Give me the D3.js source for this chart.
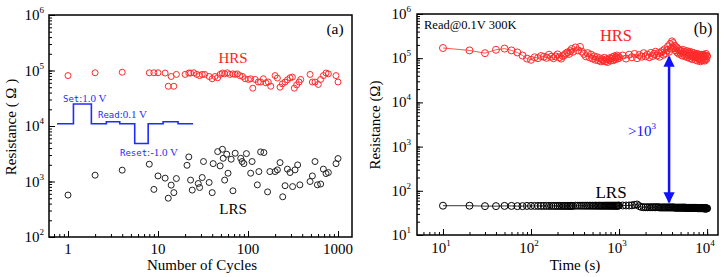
<!DOCTYPE html>
<html lang="en">

<head>
    <title>Resistance switching</title>
    <meta charset="utf-8">
    <script src="https://d3js.org/d3.v7.min.js"></script>
    <style>
        body { margin: 0; background: #fff; }
        text { font-family: "Liberation Serif", "Times New Roman", serif; }
    </style>
</head>

<body>
    <div id="container"></div>
    <script>
        // Panel (a): endurance data
        const cyclesHRS = [1, 2, 4, 8, 9, 10, 12, 13, 14, 15, 16, 20, 22, 23, 25, 27, 29, 31, 33, 37, 40, 43, 46, 49,
            52, 55, 59, 63, 68, 72, 76, 81, 87, 93, 101, 107, 113, 120, 130, 138, 148, 158, 168, 179, 200, 212, 227,
            241, 258, 274, 293, 311, 327, 347, 369, 385, 489, 519, 555, 604, 641, 687, 736, 781, 950, 1000];
        const resHRS = [8.1e4, 9.1e4, 9.3e4, 9.1e4, 9.1e4, 9.1e4, 9.0e4, 5.2e4, 7.8e4, 5.2e4, 8.5e4, 8.5e4, 9.0e4,
            9.0e4, 9.1e4, 8.5e4, 8.1e4, 8.5e4, 8.5e4, 7.8e4, 7.1e4, 7.8e4, 7.4e4, 8.5e4, 9.0e4, 8.7e4, 9.1e4, 8.5e4,
            8.7e4, 8.5e4, 8.7e4, 8.1e4, 7.8e4, 7.1e4, 6.9e4, 7.1e4, 4.8e4, 6.9e4, 6.2e4, 6.2e4, 7.1e4, 6.0e4, 6.2e4,
            5.2e4, 8.1e4, 7.3e4, 5.0e4, 5.75e4, 6.2e4, 6.8e4, 7.4e4, 7.6e4, 4.8e4, 5.5e4, 6.2e4, 6.9e4, 8.5e4, 6.2e4,
            6.2e4, 5.6e4, 6.9e4, 8.1e4, 9.0e4, 8.7e4, 8.1e4, 6.2e4];

        const cyclesLRS = [1, 2, 4, 8, 9, 10, 12, 13, 14, 15, 16, 21, 22, 23, 24, 28, 29, 31, 32, 37, 40, 41, 46, 49,
            52, 53, 55, 58, 60, 65, 68, 72, 83, 86, 90, 96, 107, 111, 127, 132, 138, 150, 165, 175, 200, 212, 227, 243,
            258, 274, 293, 313, 333, 356, 377, 489, 519, 555, 590, 641, 687, 736, 781, 950, 1000];
        const resLRS = [570, 1300, 1600, 2050, 720, 1260, 1150, 500, 860, 630, 1130, 1960, 2770, 1060, 700, 920, 780,
            1180, 2290, 960, 630, 2100, 3460, 1910, 3810, 2620, 1060, 3100, 1410, 2520, 680, 3230, 2620, 2290, 2100,
            3180, 1410, 2290, 870, 1510, 3410, 3320, 650, 1510, 1510, 1620, 2190, 530, 840, 1670, 1450, 810, 1620,
            1990, 870, 1000, 1260, 2290, 870, 900, 1670, 1390, 1450, 2100, 2590];

        // Inset pulse train (step start times and voltages)
        const waveT = [0, 1.1, 2.3, 3.3, 4.2, 5.2, 6.1, 7.1, 8.1, 9.1];
        const waveV = [0, 1.0, 0, 0.1, 0, -1.0, 0, 0.1, 0, 0];

        // Panel (b): retention data
        const timeB = [10, 20, 30, 40, 50, 60, 70, 80, 90, 100, 110, 120, 130, 140, 150, 160, 170, 180, 190, 200,
            210, 220, 230, 240, 250, 260, 270, 280, 290, 300,
            320, 340, 360, 380, 400, 420, 440, 460, 480, 500, 520, 540, 560, 580, 600, 620, 640, 660, 680, 700,
            720, 740, 760, 780, 800, 820, 840, 860, 880, 900, 920, 940, 960, 980, 1000,
            1100, 1200, 1300, 1400, 1500, 1600, 1700, 1800, 1900, 2000, 2100, 2200, 2300, 2400, 2500, 2600, 2700,
            2800, 2900, 3000, 3100, 3200, 3300, 3400, 3500, 3600, 3700, 3800, 3900, 4000, 4100, 4200, 4300, 4400,
            4500, 4600, 4700, 4800, 4900, 5000, 5100, 5200, 5300, 5400, 5500, 5600, 5700, 5800, 5900, 6000, 6100,
            6200, 6300, 6400, 6500, 6600, 6700, 6800, 6900, 7000, 7100, 7200, 7300, 7400, 7500, 7600, 7700, 7800,
            7900, 8000, 8100, 8200, 8300, 8400, 8500, 8600, 8700, 8800, 8900, 9000, 9100, 9200, 9300, 9400, 9500,
            9600, 9700, 9800, 9900, 10000];
        const hrsB = [1.7e5, 1.5e5, 1.3e5, 1.55e5, 1.65e5, 1.5e5, 1.35e5, 1.15e5, 0.98e5, 0.92e5, 1.05e5, 1.0e5,
            1.12e5, 1.08e5, 1.02e5, 1.2e5, 1.08e5, 1.0e5, 1.1e5, 1.22e5, 1.05e5, 0.98e5, 1.12e5, 1.18e5, 1.28e5,
            1.36e5, 1.25e5, 1.45e5, 1.62e5, 1.4e5,
            1.75e5, 1.5e5, 1.8e5, 1.4e5, 1.25e5, 1.1e5, 1.3e5, 1.05e5, 1.2e5, 0.98e5, 1.1e5, 0.92e5, 1.05e5, 0.9e5,
            1.0e5, 0.85e5, 0.95e5, 0.88e5, 1.02e5, 0.85e5, 0.95e5, 0.82e5, 0.92e5, 1.0e5, 0.88e5, 0.98e5, 1.05e5,
            0.9e5, 1.1e5, 0.95e5, 1.05e5, 1.15e5, 0.98e5, 1.1e5, 1.02e5,
            1.15e5, 0.98e5, 1.2e5, 1.05e5, 1.25e5, 1.0e5, 1.18e5, 1.08e5, 1.3e5, 1.1e5,
            1.2e5, 1.05e5, 1.32e5, 1.12e5, 1.25e5, 1.4e5, 1.15e5, 1.3e5, 1.08e5, 1.35e5,
            1.45e5, 1.2e5, 1.6e5, 1.3e5, 1.5e5, 1.85e5, 1.4e5, 2.1e5, 1.65e5, 2.4e5,
            2.2e5, 1.7e5, 1.9e5, 1.5e5, 1.75e5, 1.35e5, 1.6e5, 1.25e5, 1.5e5, 1.3e5,
            1.45e5, 1.15e5, 1.55e5, 1.25e5, 1.4e5, 1.1e5, 1.35e5, 1.2e5, 1.45e5, 1.05e5,
            1.3e5, 1.15e5, 1.4e5, 1.0e5, 1.25e5, 1.1e5, 1.35e5, 0.95e5, 1.2e5, 1.05e5,
            1.3e5, 1.1e5, 1.2e5, 0.92e5, 1.15e5, 1.05e5, 1.25e5, 0.88e5, 1.1e5, 1.0e5,
            1.2e5, 0.95e5, 1.15e5, 0.85e5, 1.1e5, 1.0e5, 1.2e5, 0.9e5, 1.15e5, 1.05e5,
            1.2e5, 0.92e5, 1.1e5, 0.88e5, 1.15e5, 1.0e5, 1.25e5, 0.95e5, 1.1e5, 1.12e5];
        const lrsB = [46, 46, 45, 45, 45.5, 45.5, 45, 45, 45.5, 45.5, 45.5, 45.5, 45.5, 45.5, 45.5, 45.5, 45.5, 45.5,
            45.5, 45.5, 45.5, 45.5, 45.5, 45.5, 45.5, 45.5, 45.5, 45.5, 45.5, 45.5,
            46, 46, 46, 46, 46, 46, 46, 46, 46, 46, 46, 46, 46, 46, 46, 46, 46, 46, 46, 46, 46, 46, 46, 46, 46, 46,
            46, 46, 46, 46, 46, 46, 46, 46, 46.5,
            46.5, 46.5, 46.5, 47, 48, 49, 45, 43, 42.5, 42.5, 42.5, 42.5, 42.5, 42.5, 42.5, 42.5, 42.5, 42.5, 42,
            42, 42, 42, 42, 42, 42, 42, 42, 42, 42, 42, 42, 42, 41.5, 41.5, 41.5, 41.5, 41.5, 41.5, 41.5, 41.5,
            41.5, 41.5, 41.5, 41.5, 41.5, 41.5, 41.5, 41, 41, 41, 41, 41, 41, 41, 41, 41, 41, 41, 41, 41, 41, 41,
            41, 41, 41, 41, 40.5, 40.5, 40.5, 40.5, 40.5, 40.5, 40.5, 40.5, 40.5, 40.5, 40.5, 40.5, 40.5, 40.5,
            40.5, 40, 40, 40, 40, 40, 40, 40, 40, 40, 40];

        // Window arrow between the states
        const arrowTime = 3700;
        const arrowRange = [1.08e5, 55];

        // Tick labels
        const ticksAX = [1, 10, 100, 1000];
        const ticksAY = [2, 3, 4, 5, 6];
        const ticksBX = [1, 2, 3, 4];
        const ticksBY = [1, 2, 3, 4, 5, 6];

        // Draw canvas
        const svg = d3.select("#container")
            .append("svg")
            .attr("width", 724)
            .attr("height", 277);

        // Create scales
        const xA = d3.scaleLog().domain([0.615, 1430]).range([49, 352]);
        const yA = d3.scaleLog().domain([100, 1e6]).range([237, 15]);
        const xB = d3.scaleLog().domain([5.07, 13300]).range([417, 718]);
        const yB = d3.scaleLog().domain([10, 1e6]).range([235, 14]);
        const xW = d3.scaleLinear().domain([0, 9.1]).range([57, 193]);
        const yW = d3.scaleLinear().domain([-1, 1]).range([143.5, 104]);

        // Frame with inward ticks
        function drawFrame(x, y, majorX, majorY) {
            const [x0, x1] = x.range();
            const [y1, y0] = y.range();
            const g = svg.append("g");
            g.append("g")
                .attr("transform", `translate(0,${y1})`)
                .call(d3.axisBottom(x).tickValues(x.ticks()).tickSize(-3).tickFormat(""));
            g.append("g")
                .attr("transform", `translate(0,${y1})`)
                .call(d3.axisBottom(x).tickValues(majorX).tickSize(-6).tickFormat(""));
            g.append("g")
                .attr("transform", `translate(${x0},0)`)
                .call(d3.axisLeft(y).tickValues(y.ticks()).tickSize(-3).tickFormat(""));
            g.append("g")
                .attr("transform", `translate(${x0},0)`)
                .call(d3.axisLeft(y).tickValues(majorY).tickSize(-6).tickFormat(""));
            g.selectAll(".domain").remove();
            g.selectAll(".tick line").attr("stroke", "black").attr("stroke-width", 1);
            g.append("rect")
                .attr("x", x0).attr("y", y0)
                .attr("width", x1 - x0).attr("height", y1 - y0)
                .attr("fill", "none")
                .attr("stroke", "black")
                .attr("stroke-width", 1.5);
        }

        function powLabel(x, y, exp, anchor) {
            const t = svg.append("text")
                .attr("x", x).attr("y", y)
                .attr("text-anchor", anchor)
                .style("font-size", "15px");
            t.append("tspan").text("10");
            t.append("tspan").attr("dy", -7).style("font-size", "9px").text(exp);
        }

        // ---------- Panel (a) ----------
        drawFrame(xA, yA, ticksAX, ticksAY.map(e => Math.pow(10, e)));

        ticksAX.forEach(v => {
            svg.append("text")
                .attr("x", xA(v)).attr("y", 254)
                .attr("text-anchor", "middle")
                .style("font-size", "15px")
                .text(v);
        });
        ticksAY.forEach(e => powLabel(44, yA(Math.pow(10, e)) + 5, e, "end"));

        svg.append("text")
            .attr("x", 202).attr("y", 270)
            .attr("text-anchor", "middle")
            .style("font-size", "15px")
            .text("Number of Cycles");

        svg.append("text")
            .attr("transform", "translate(16,127) rotate(-90)")
            .attr("text-anchor", "middle")
            .style("font-size", "15px")
            .text("Resistance ( Ω )");

        svg.append("text")
            .attr("x", 335).attr("y", 34)
            .attr("text-anchor", "middle")
            .style("font-size", "15.5px")
            .text("(a)");

        svg.append("g").selectAll("circle")
            .data(cyclesHRS)
            .join("circle")
            .attr("cx", d => xA(d))
            .attr("cy", (d, i) => yA(resHRS[i]))
            .attr("r", 3)
            .attr("fill", "none")
            .attr("stroke", "#ff2a2a")
            .attr("stroke-width", 1);

        svg.append("g").selectAll("circle")
            .data(cyclesLRS)
            .join("circle")
            .attr("cx", d => xA(d))
            .attr("cy", (d, i) => yA(resLRS[i]))
            .attr("r", 3)
            .attr("fill", "none")
            .attr("stroke", "#222")
            .attr("stroke-width", 1);

        svg.append("text")
            .attr("x", 233).attr("y", 63)
            .attr("text-anchor", "middle")
            .style("font-size", "15px")
            .attr("fill", "#ff2020")
            .text("HRS");

        svg.append("text")
            .attr("x", 233).attr("y", 214)
            .attr("text-anchor", "middle")
            .style("font-size", "15px")
            .text("LRS");

        // Inset pulse train
        svg.append("path")
            .datum(waveT.map((t, i) => [t, waveV[i]]))
            .attr("d", d3.line().x(d => xW(d[0])).y(d => yW(d[1])).curve(d3.curveStepAfter))
            .attr("fill", "none")
            .attr("stroke", "#1f2bff")
            .attr("stroke-width", 1.6);

        function pulseLabel(x, y, word, value) {
            const t = svg.append("text")
                .attr("x", x).attr("y", y)
                .attr("fill", "#1f2bff");
            t.append("tspan").style("font-family", "DejaVu Sans Mono").style("font-size", "9px").text(word);
            t.append("tspan").style("font-size", "11px").text(value);
        }
        pulseLabel(63, 102, "Set", ":1.0 V");
        pulseLabel(98, 118, "Read", ":0.1 V");
        pulseLabel(120, 156, "Reset", ":-1.0 V");

        // ---------- Panel (b) ----------
        drawFrame(xB, yB, ticksBX.map(e => Math.pow(10, e)), ticksBY.map(e => Math.pow(10, e)));

        ticksBX.forEach(e => powLabel(xB(Math.pow(10, e)) - 2, 253, e, "middle"));
        ticksBY.forEach(e => powLabel(411, yB(Math.pow(10, e)) + 5, e, "end"));

        svg.append("text")
            .attr("x", 575).attr("y", 270)
            .attr("text-anchor", "middle")
            .style("font-size", "15px")
            .text("Time (s)");

        svg.append("text")
            .attr("transform", "translate(380,125) rotate(-90)")
            .attr("text-anchor", "middle")
            .style("font-size", "15px")
            .text("Resistance (Ω)");

        svg.append("text")
            .attr("x", 424).attr("y", 29)
            .style("font-size", "12.5px")
            .text("Read@0.1V 300K");

        svg.append("text")
            .attr("x", 703).attr("y", 34)
            .attr("text-anchor", "middle")
            .style("font-size", "16px")
            .text("(b)");

        const lineB = d3.line().x(d => xB(d[0])).y(d => yB(d[1]));

        svg.append("path")
            .datum(timeB.map((t, i) => [t, hrsB[i]]))
            .attr("d", lineB)
            .attr("fill", "none")
            .attr("stroke", "#ff2a2a")
            .attr("stroke-width", 0.8);

        svg.append("g").selectAll("circle")
            .data(timeB)
            .join("circle")
            .attr("cx", d => xB(d))
            .attr("cy", (d, i) => yB(hrsB[i]))
            .attr("r", 3.5)
            .attr("fill", "none")
            .attr("stroke", "#ff2a2a")
            .attr("stroke-width", 1);

        svg.append("path")
            .datum(timeB.map((t, i) => [t, lrsB[i]]))
            .attr("d", lineB)
            .attr("fill", "none")
            .attr("stroke", "black")
            .attr("stroke-width", 0.8);

        svg.append("g").selectAll("circle")
            .data(timeB)
            .join("circle")
            .attr("cx", d => xB(d))
            .attr("cy", (d, i) => yB(lrsB[i]))
            .attr("r", 3.5)
            .attr("fill", "none")
            .attr("stroke", "black")
            .attr("stroke-width", 1);

        svg.append("text")
            .attr("x", 616).attr("y", 41)
            .attr("text-anchor", "middle")
            .style("font-size", "16.5px")
            .attr("fill", "#ff2020")
            .text("HRS");

        svg.append("text")
            .attr("x", 611).attr("y", 198)
            .attr("text-anchor", "middle")
            .style("font-size", "17px")
            .text("LRS");

        // Double-headed arrow
        svg.append("defs").selectAll("marker")
            .data(["head"])
            .join("marker")
            .attr("id", d => d)
            .attr("viewBox", "0 0 10 10")
            .attr("refX", 9).attr("refY", 5)
            .attr("markerWidth", 5).attr("markerHeight", 4.5)
            .attr("markerUnits", "strokeWidth")
            .attr("orient", "auto-start-reverse")
            .append("path")
            .attr("d", "M0,0L10,5L0,10Z")
            .attr("fill", "#1010ff");

        svg.append("line")
            .attr("x1", xB(arrowTime)).attr("x2", xB(arrowTime))
            .attr("y1", yB(arrowRange[0])).attr("y2", yB(arrowRange[1]))
            .attr("stroke", "#1010ff")
            .attr("stroke-width", 2.5)
            .attr("marker-start", "url(#head)")
            .attr("marker-end", "url(#head)");

        const gap = svg.append("text")
            .attr("x", 628).attr("y", 136)
            .attr("fill", "#1010ff")
            .style("font-size", "15px");
        gap.append("tspan").text(">10");
        gap.append("tspan").attr("dy", -7).style("font-size", "9px").text("3");
    </script>
</body>

</html>
